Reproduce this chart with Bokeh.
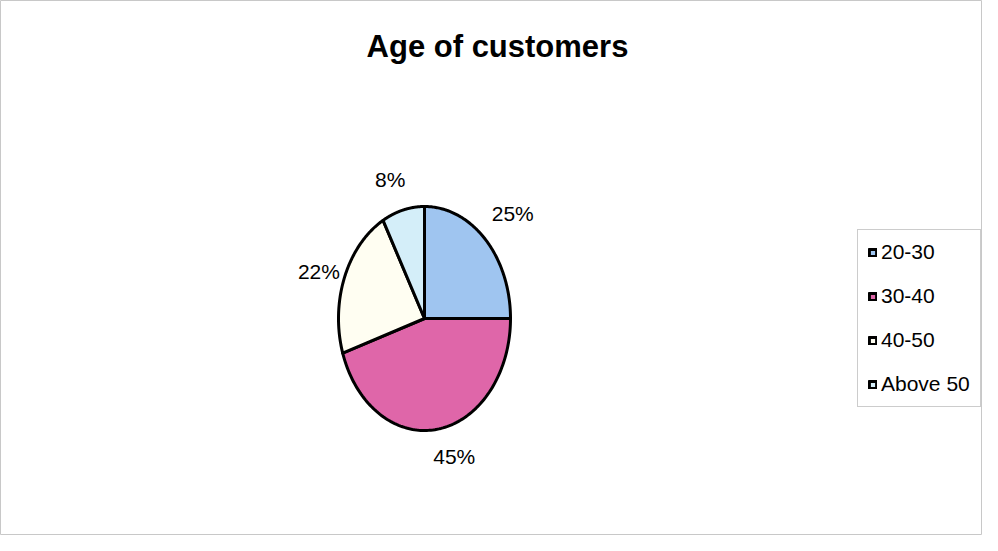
import numpy as np
from bokeh.plotting import figure
from bokeh.models import Range1d, Legend, LegendItem, Label, ColumnDataSource
from bokeh.embed import file_html
from bokeh.resources import INLINE
from bokeh.core.properties import value

title_text = "Age of customers"
categories = ["20-30", "30-40", "40-50", "Above 50"]
percentages = [25, 45, 22, 8]
pct_labels = ["25%", "45%", "22%", "8%"]
colors = ["#9FC5F0", "#DF66A9", "#FFFEF2", "#D4EEF9"]

# layout: small per-label pixel nudges (best-fit placement like the original)
label_dx = [8, 12, 0, -6]
label_dy = [0, -8, 7, 4]

W, H = 982, 535
cx, cy = 424, 217      # pie centre, px from bottom-left of frame
rx, ry = 86, 112       # pie radii in px (elliptical as in reference)

p = figure(width=W, height=H, output_backend="svg", toolbar_location=None,
           title=None, x_axis_location=None, y_axis_location=None,
           x_range=Range1d(-cx / rx, (W - cx) / rx),
           y_range=Range1d(-cy / ry, (H - cy) / ry),
           min_border=0)
p.grid.visible = False
p.outline_line_color = "#C8C8C8"
p.background_fill_color = "white"
p.border_fill_color = "white"

vals = np.array(percentages, dtype=float)
fr = vals / vals.sum()
start = np.pi / 2 - 2 * np.pi * np.concatenate([[0.0], np.cumsum(fr)[:-1]])
end = start - 2 * np.pi * fr

renderers = []
for i in range(len(categories)):
    t = np.linspace(start[i], end[i], 120)
    xs = np.concatenate([[0.0], np.cos(t), [0.0]])
    ys = np.concatenate([[0.0], np.sin(t), [0.0]])
    r = p.patch(xs, ys, fill_color=colors[i], line_color="black",
                line_width=3, line_join="round")
    renderers.append(r)

mid = (start + end) / 2
lab_r = 1.32
src = ColumnDataSource(dict(x=lab_r * np.cos(mid), y=lab_r * np.sin(mid), text=pct_labels,
                            dx=label_dx, dy=label_dy))
p.text(x="x", y="y", text="text", source=src, x_offset="dx", y_offset="dy",
       text_align="center", text_baseline="middle",
       text_font=value("Liberation Sans"), text_font_size="21px", text_color="black")

title = Label(x=497, y=H - 46, x_units="screen", y_units="screen", text=title_text,
              text_font="Liberation Sans", text_font_size="31px",
              text_font_style="bold", text_align="center", text_baseline="middle",
              text_color="black")
p.add_layout(title)

legend = Legend(items=[LegendItem(label=c, renderers=[r]) for c, r in zip(categories, renderers)],
                location=(857, 128), glyph_width=9, glyph_height=9,
                label_text_font="Liberation Sans", label_text_font_size="21px",
                label_text_color="black",
                label_height=22, spacing=20, padding=10, label_standoff=4,
                border_line_color="#999999", border_line_width=1,
                background_fill_color="white", margin=0)
p.add_layout(legend, "center")

open("out.html", "w").write(file_html(p, INLINE))
